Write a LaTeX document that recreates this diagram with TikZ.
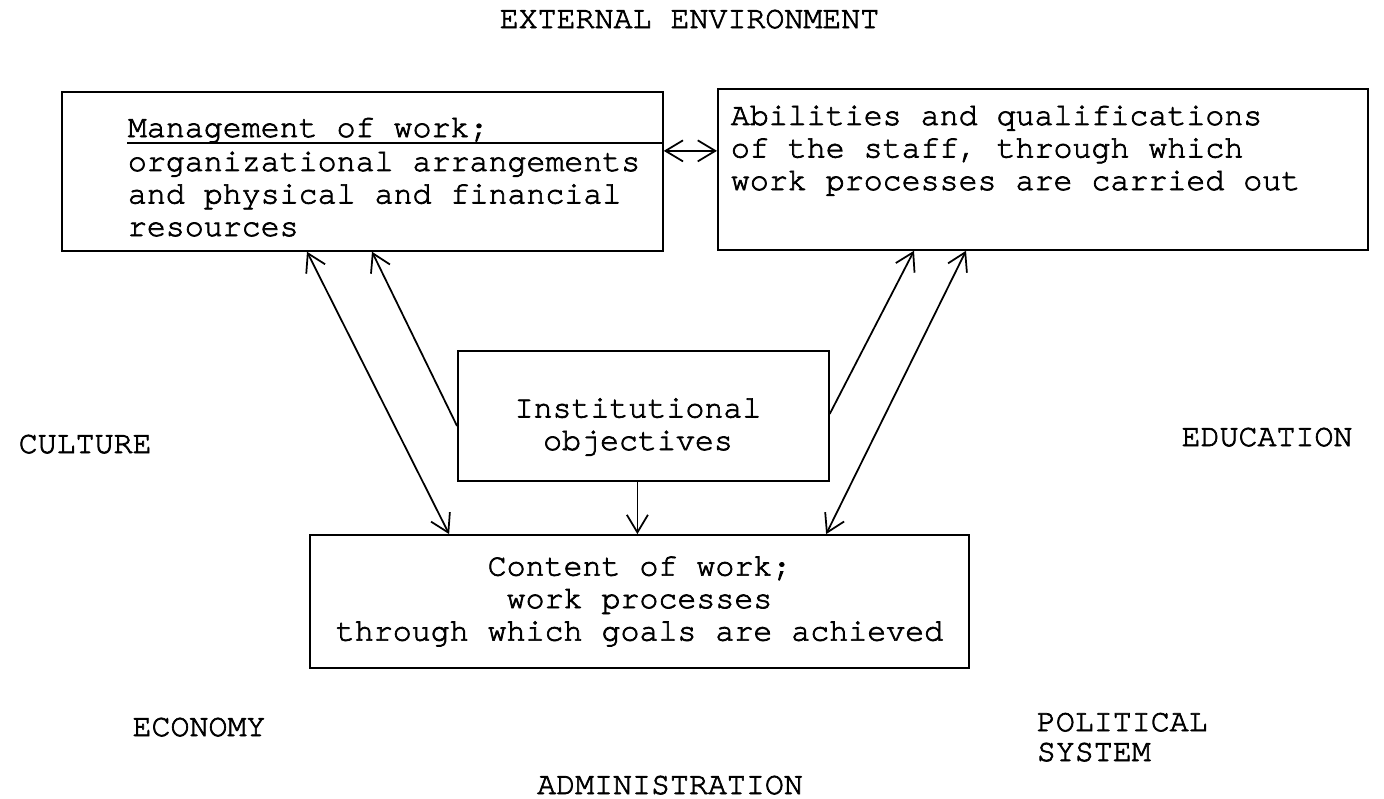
\documentclass[tikz,border=0pt]{standalone}
\usepackage{fontspec}
\newfontfamily\typefont[Ligatures=NoCommon,FakeBold=2.2]{texgyrecursor-regular.otf}
\usetikzlibrary{arrows.meta}

\begin{document}
\begin{tikzpicture}[>={Straight Barb[length=10pt,width=12pt]},
    line width = 1pt,
    box/.style = {draw, rectangle, inner sep=0pt},
    txt/.style = {align=left, inner sep=0pt},
    low/.style = {font=\typefont\fontsize{18}{17}\selectfont},
every node/.append style = {font=\typefont\fontsize{18}{18.5}\selectfont}
                    ]
\useasboundingbox (0,0) rectangle (27.68,-15.96);
% boxes
\node (mgmt)  [box,anchor=north west,
               minimum width=12.02cm,minimum height=3.18cm] at (1.22,-1.82)  {};
\node (staff) [box,anchor=north west,
               minimum width=13.00cm,minimum height=3.22cm] at (14.34,-1.76) {};
\node (obj)   [box,anchor=north west,
               minimum width=7.42cm,minimum height=2.6cm]   at (9.14,-7.0)   {};
\node (cont)  [box,align=center,
               minimum width=13.18cm,minimum height=2.66cm] at (12.79,-12.03)
              {Content of work;\\work processes\\through which goals are achieved};
% box texts (base = last line)
\node (mhead) [txt,anchor=base west] at (2.54,-2.74) {Management of work;};
\node (mbody) [txt,anchor=base west] at (2.54,-4.72)
              {organizational arrangements\\and physical and financial\\resources};
\node (stext) [txt,anchor=base west] at (14.60,-3.80)
              {Abilities and qualifications\\of the staff, through which\\work processes are carried out};
\node (otext) [txt,align=center,anchor=base] at (12.76,-9.0) {Institutional\\objectives};
\draw[line width=0.8pt] ([yshift=-0.12cm]mhead.base west) -- ([yshift=-0.12cm]mhead.base west -| mgmt.east);
% surroundings
\node (env)  [anchor=base]      at (13.79,-0.56)  {EXTERNAL ENVIRONMENT};
\node (cult) [anchor=base west] at (0.24,-9.06)   {CULTURE};
\node (edu)  [anchor=base]      at (25.34,-8.92)  {EDUCATION};
\node (eco)  [anchor=base]      at (3.98,-14.72)  {ECONOMY};
\node (pol)  [txt,low,anchor=base west] at (20.72,-15.22) {POLITICAL\\SYSTEM};
\node (adm)  [anchor=base]      at (13.40,-15.88) {ADMINISTRATION};
% connections
\draw[<->] ([yshift=0.41cm]mgmt.east) -- ([yshift=0.41cm]mgmt.east -| staff.west);
\draw[<->] ([xshift=2.8cm]cont.north west)   -- ([xshift=4.92cm]mgmt.south west);
\draw[->]  ([yshift=-0.2cm]obj.west)          -- ([xshift=6.22cm]mgmt.south west);
\draw[->]  ([yshift=0.04cm]obj.east)          -- ([xshift=3.94cm]staff.south west);
\draw[<->] ([xshift=10.34cm]cont.north west)  -- ([xshift=4.98cm]staff.south west);
\draw[->]  ([xshift=-0.12cm]obj.south)        -- ([xshift=-0.12cm]obj.south |- cont.north);
\end{tikzpicture}
\end{document}
